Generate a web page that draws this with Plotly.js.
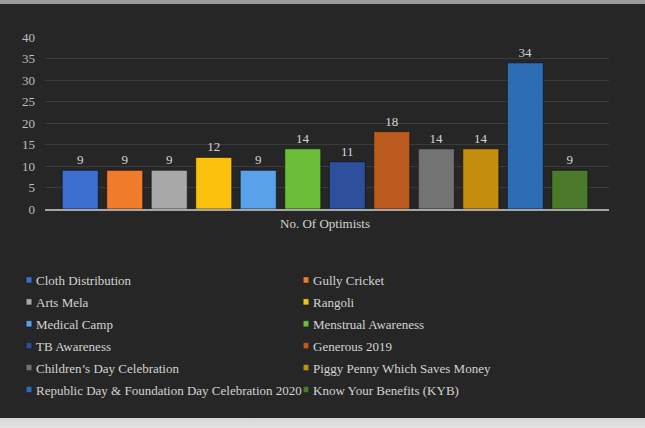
<!DOCTYPE html>
<html>
<head>
<meta charset="utf-8">
<script src="https://cdn.plot.ly/plotly-3.0.1.min.js"></script>
<style>
  html, body { margin: 0; padding: 0; }
  body {
    width: 645px; height: 428px; overflow: hidden;
    background: linear-gradient(to bottom, #9c9c9c 0px, #9c9c9c 4px, #262626 4px, #262626 418px, #d6d6d6 418px, #e2e2e2 428px);
  }
  #chart { position: absolute; left: 0; top: 4px; width: 645px; height: 414px; }
  .legendpoints path {
    transform-box: fill-box;
    transform-origin: center;
    transform: translate(20px, 0px) scale(0.45, 0.5);
  }
  .legendtext, .legend2text {
    transform: translate(-13px, 0px);
  }
</style>
</head>
<body>
<div id="chart"></div>
<script>
const categories = ["No. Of Optimists"];
const seriesNames = [
  "Cloth Distribution",
  "Gully Cricket",
  "Arts Mela",
  "Rangoli",
  "Medical Camp",
  "Menstrual Awareness",
  "TB Awareness",
  "Generous 2019",
  "Children\u2019s Day Celebration",
  "Piggy Penny Which Saves Money",
  "Republic Day & Foundation Day Celebration 2020",
  "Know Your Benefits (KYB)"
];
const seriesValues = [9, 9, 9, 12, 9, 14, 11, 18, 14, 14, 34, 9];
const seriesColors = [
  "#3d6fd0", "#ef7b2b", "#a8a8a8", "#fbc10b", "#59a2e9", "#6cbd3a",
  "#2d4f9c", "#bd5a1f", "#737373", "#c38d0d", "#2d6db3", "#4b7b2a"
];
const yTickVals = [0, 5, 10, 15, 20, 25, 30, 35, 40];

const serif = "'Liberation Serif', 'Times New Roman', serif";

const traces = seriesNames.map((name, i) => ({
  type: "bar",
  name: name,
  x: categories,
  y: [seriesValues[i]],
  text: [String(seriesValues[i])],
  textposition: "outside",
  textfont: { family: serif, size: 13, color: "#d4d4d4" },
  cliponaxis: false,
  marker: { color: seriesColors[i], line: { color: "rgba(10,10,10,0.6)", width: 1 } },
  legend: i % 2 === 0 ? "legend" : "legend2",
  legendgroup: "g" + i,
  hoverinfo: "skip"
}));

const legendCommon = {
  orientation: "v",
  yanchor: "top",
  xanchor: "left",
  y: -0.3256,
  bgcolor: "rgba(0,0,0,0)",
  borderwidth: 0,
  tracegroupgap: 2,
  font: { family: serif, size: 13, color: "#d4d4d4" }
};

const layout = {
  width: 645,
  height: 414,
  margin: { l: 45, r: 36, t: 33, b: 209, pad: 0, autoexpand: false },
  paper_bgcolor: "#262626",
  plot_bgcolor: "#262626",
  barmode: "group",
  bargap: 0.053,
  bargroupgap: 0.19,
  showlegend: true,
  xaxis: {
    type: "category",
    range: [-0.4965, 0.5035],
    showgrid: false,
    zeroline: false,
    showline: true,
    linecolor: "#a6a6a6",
    linewidth: 1.5,
    ticks: "",
    ticklabelstandoff: 2,
    tickfont: { family: serif, size: 13, color: "#d4d4d4" },
    fixedrange: true
  },
  yaxis: {
    range: [0, 40],
    tickmode: "array",
    tickvals: yTickVals,
    ticktext: yTickVals.map(String),
    showgrid: true,
    gridcolor: "#3b3b3b",
    gridwidth: 1,
    zeroline: false,
    showline: false,
    ticks: "",
    ticklabelstandoff: 9,
    tickfont: { family: serif, size: 13, color: "#bfbfbf" },
    fixedrange: true
  },
  legend: Object.assign({}, legendCommon, { x: -0.0638 }),
  legend2: Object.assign({}, legendCommon, { x: 0.4273 })
};

Plotly.newPlot("chart", traces, layout, { displayModeBar: false, staticPlot: true });
</script>
</body>
</html>
